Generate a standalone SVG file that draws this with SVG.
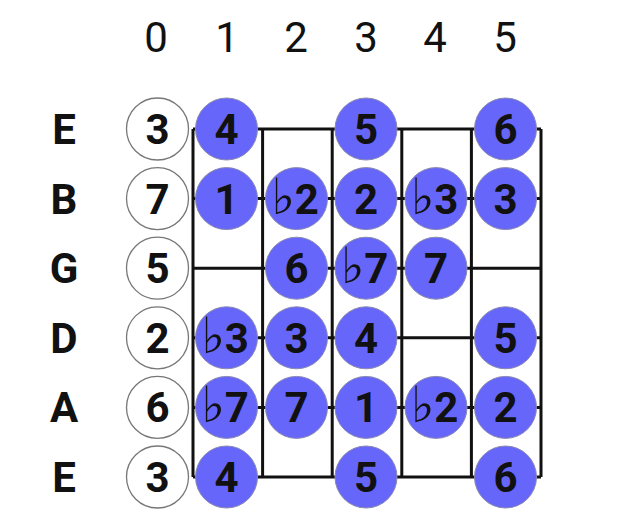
<svg xmlns="http://www.w3.org/2000/svg" width="620" height="531" viewBox="0 0 620 531">
<style>
.hdr{font-family:Roboto,"Liberation Sans",sans-serif;font-size:42px;fill:#111;text-anchor:middle}
.lbl{font-family:Roboto,"Liberation Sans",sans-serif;font-size:42px;font-weight:bold;fill:#111;text-anchor:middle}
.n{font-family:Roboto,"DejaVu Sans",sans-serif;font-size:42px;font-weight:bold;fill:#111;text-anchor:middle}
.f{font-family:"DejaVu Sans",sans-serif;font-size:50px;font-weight:normal}
.open{fill:#fff;stroke:#777;stroke-width:1.3}
.fill{fill:#6666fa;stroke:#8a8ab0;stroke-width:1}
.ln{stroke:#111;stroke-width:3;fill:none}
</style>
<rect width="620" height="531" fill="#fff"/>
<g id="headers">
<text class="hdr" x="156" y="52">0</text>
<text class="hdr" x="227" y="52">1</text>
<text class="hdr" x="296" y="52">2</text>
<text class="hdr" x="366" y="52">3</text>
<text class="hdr" x="435" y="52">4</text>
<text class="hdr" x="505" y="52">5</text>
</g>
<g id="string-labels">
<text class="lbl" x="64" y="144">E</text>
<text class="lbl" x="64" y="213.5">B</text>
<text class="lbl" x="64" y="283">G</text>
<text class="lbl" x="64" y="352.5">D</text>
<text class="lbl" x="64" y="422">A</text>
<text class="lbl" x="64" y="492">E</text>
</g>
<g id="connectors">
<path class="ln" d="M193 129V477M262.6 129V477M332.2 129V477M401.8 129V477M471.4 129V477M541 129V477"/>
<path class="ln" d="M193 129H541M193 198.6H541M193 268.2H541M193 337.8H541M193 407.4H541M193 477H541"/>
</g>
<g id="open-strings">
<g id="o0"><circle class="open" cx="157.5" cy="129" r="31"/><text class="n" x="157.5" y="144">3</text></g>
<g id="o1"><circle class="open" cx="157.5" cy="198.6" r="31"/><text class="n" x="157.5" y="213.5">7</text></g>
<g id="o2"><circle class="open" cx="157.5" cy="268.2" r="31"/><text class="n" x="157.5" y="283">5</text></g>
<g id="o3"><circle class="open" cx="157.5" cy="337.8" r="31"/><text class="n" x="157.5" y="352.5">2</text></g>
<g id="o4"><circle class="open" cx="157.5" cy="407.4" r="31"/><text class="n" x="157.5" y="422">6</text></g>
<g id="o5"><circle class="open" cx="157.5" cy="477" r="31"/><text class="n" x="157.5" y="492">3</text></g>
</g>
<g id="notes">
<g id="r0c1"><circle class="fill" cx="226.5" cy="129" r="31"/><text class="n" x="226.5" y="144">4</text></g>
<g id="r0c3"><circle class="fill" cx="366" cy="129" r="31"/><text class="n" x="366" y="144">5</text></g>
<g id="r0c5"><circle class="fill" cx="505.5" cy="129" r="31"/><text class="n" x="505.5" y="144">6</text></g>

<g id="r1c1"><circle class="fill" cx="226.5" cy="198.6" r="31"/><text class="n" x="226.5" y="213.5">1</text></g>
<g id="r1c2"><circle class="fill" cx="296.5" cy="198.6" r="31"/><text class="n" x="295" y="213.5"><tspan class="f">♭</tspan>2</text></g>
<g id="r1c3"><circle class="fill" cx="366" cy="198.6" r="31"/><text class="n" x="366" y="213.5">2</text></g>
<g id="r1c4"><circle class="fill" cx="436" cy="198.6" r="31"/><text class="n" x="434.5" y="213.5"><tspan class="f">♭</tspan>3</text></g>
<g id="r1c5"><circle class="fill" cx="505.5" cy="198.6" r="31"/><text class="n" x="505.5" y="213.5">3</text></g>

<g id="r2c2"><circle class="fill" cx="296.5" cy="268.2" r="31"/><text class="n" x="296.5" y="283">6</text></g>
<g id="r2c3"><circle class="fill" cx="366" cy="268.2" r="31"/><text class="n" x="364.5" y="283"><tspan class="f">♭</tspan>7</text></g>
<g id="r2c4"><circle class="fill" cx="436" cy="268.2" r="31"/><text class="n" x="436" y="283">7</text></g>

<g id="r3c1"><circle class="fill" cx="226.5" cy="337.8" r="31"/><text class="n" x="225" y="352.5"><tspan class="f">♭</tspan>3</text></g>
<g id="r3c2"><circle class="fill" cx="296.5" cy="337.8" r="31"/><text class="n" x="296.5" y="352.5">3</text></g>
<g id="r3c3"><circle class="fill" cx="366" cy="337.8" r="31"/><text class="n" x="366" y="352.5">4</text></g>
<g id="r3c5"><circle class="fill" cx="505.5" cy="337.8" r="31"/><text class="n" x="505.5" y="352.5">5</text></g>

<g id="r4c1"><circle class="fill" cx="226.5" cy="407.4" r="31"/><text class="n" x="225" y="422"><tspan class="f">♭</tspan>7</text></g>
<g id="r4c2"><circle class="fill" cx="296.5" cy="407.4" r="31"/><text class="n" x="296.5" y="422">7</text></g>
<g id="r4c3"><circle class="fill" cx="366" cy="407.4" r="31"/><text class="n" x="366" y="422">1</text></g>
<g id="r4c4"><circle class="fill" cx="436" cy="407.4" r="31"/><text class="n" x="434.5" y="422"><tspan class="f">♭</tspan>2</text></g>
<g id="r4c5"><circle class="fill" cx="505.5" cy="407.4" r="31"/><text class="n" x="505.5" y="422">2</text></g>

<g id="r5c1"><circle class="fill" cx="226.5" cy="477" r="31"/><text class="n" x="226.5" y="492">4</text></g>
<g id="r5c3"><circle class="fill" cx="366" cy="477" r="31"/><text class="n" x="366" y="492">5</text></g>
<g id="r5c5"><circle class="fill" cx="505.5" cy="477" r="31"/><text class="n" x="505.5" y="492">6</text></g>
</g>
</svg>
